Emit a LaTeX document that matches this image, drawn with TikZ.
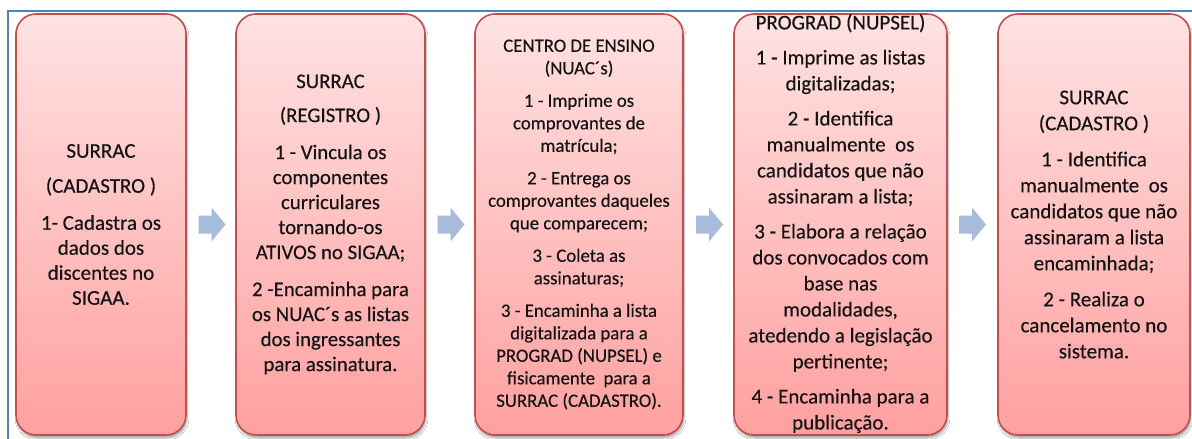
\documentclass[tikz,border=0pt]{standalone}
\usepackage{fontspec}
\setmainfont{Carlito}[FakeBold=0.35]
\usetikzlibrary{shadows.blur,calc}
\definecolor{boxborder}{RGB}{192,80,77}
\definecolor{boxtop}{RGB}{255,226,226}
\definecolor{boxbot}{RGB}{255,160,160}
\definecolor{arrowblue}{RGB}{167,187,218}
\definecolor{framblue}{RGB}{79,129,189}
\definecolor{txt}{RGB}{20,20,20}
\tikzset{
  procbox/.style={draw=boxborder, line width=1.6pt, rounded corners=20pt,
    top color=boxtop, bottom color=boxbot, minimum height=421pt,
    blur shadow={shadow xshift=1pt, shadow yshift=-3pt, shadow blur steps=6, shadow opacity=35}},
  proctext/.style={align=center, text=txt, inner sep=0pt},
  flowarrow/.style={fill=arrowblue, draw=none}
}
\newcommand{\flowarrowpath}[1]{%
  \fill[flowarrow, shift={(#1)}] (-13.5,-9) -- (-0.5,-9) -- (-0.5,-17) -- (13.5,0)
    -- (-0.5,17) -- (-0.5,9) -- (-13.5,9) -- cycle;}
\begin{document}
\begin{tikzpicture}[x=1pt,y=-1pt]
\useasboundingbox (0,0) rectangle (1192,439);
\fill[white] (0,0) rectangle (1192,439);
% frame
\coordinate (ftl) at (8,11);
\coordinate (ftr) at (1192,11);
\coordinate (fbl) at (8,439);
\draw[framblue, line width=1.6pt] (fbl) -- (ftl) -- (ftr);
% boxes
\node[procbox, minimum width=170pt] (b1) at (101,224.5) {};
\node[procbox, minimum width=189pt] (b2) at (330.5,224.5) {};
\node[procbox, minimum width=208pt] (b3) at (579,224.5) {};
\node[procbox, minimum width=213pt] (b4) at (840.5,224.5) {};
\node[procbox, minimum width=192pt] (b5) at (1094,224.5) {};
% texts
\node[proctext, font=\fontsize{21}{25}\selectfont] (t1) at (b1.center) {SURRAC\\[10pt](CADASTRO )\\[12pt]1- Cadastra os\\dados dos\\discentes no\\SIGAA.};
\node[proctext, font=\fontsize{20.8}{25}\selectfont] (t2) at (b2.center) {SURRAC\\[9pt](REGISTRO )\\[12pt]1 - Vincula os\\componentes\\curriculares\\tornando-os\\ATIVOS no SIGAA;\\[12pt]2 -Encaminha para\\os NUAC´s as listas\\dos ingressantes\\para assinatura.};
\node[proctext, font=\fontsize{18.8}{22.5}\selectfont] (t3) at (b3.center) {CENTRO DE ENSINO\\(NUAC´s)\\[10pt]1 - Imprime os\\comprovantes de\\matrícula;\\[10pt]2 - Entrega os\\comprovantes daqueles\\que comparecem;\\[10pt]3 - Coleta as\\assinaturas;\\[10pt]3 - Encaminha a lista\\digitalizada para a\\PROGRAD (NUPSEL) e\\fisicamente~ para a\\SURRAC (CADASTRO).};
\node[proctext, font=\fontsize{21}{26}\selectfont] (t4) at ($(b4.center)+(0,-1)$) {PROGRAD (NUPSEL)\\[9pt]1 - Imprime as listas\\digitalizadas;\\[9pt]2 - Identifica\\manualmente~ os\\candidatos que não\\assinaram a lista;\\[9pt]3 - Elabora a relação\\dos convocados com\\base nas\\modalidades,\\atedendo a legislação\\pertinente;\\[9pt]4 - Encaminha para a\\publicação.};
\node[proctext, font=\fontsize{21}{26}\selectfont] (t5) at (b5.center) {SURRAC\\(CADASTRO )\\[10pt]1 - Identifica\\manualmente~ os\\candidatos que não\\assinaram a lista\\encaminhada;\\[10pt]2 - Realiza o\\cancelamento no\\sistema.};
% arrows between boxes
\coordinate (m1) at ($(b1.east)!0.5!(b2.west)+(1,0)$);
\coordinate (m2) at ($(b2.east)!0.5!(b3.west)+(1,0)$);
\coordinate (m3) at ($(b3.east)!0.5!(b4.west)+(1,0)$);
\coordinate (m4) at ($(b4.east)!0.5!(b5.west)$);
\flowarrowpath{m1}
\flowarrowpath{m2}
\flowarrowpath{m3}
\flowarrowpath{m4}
\end{tikzpicture}
\end{document}
